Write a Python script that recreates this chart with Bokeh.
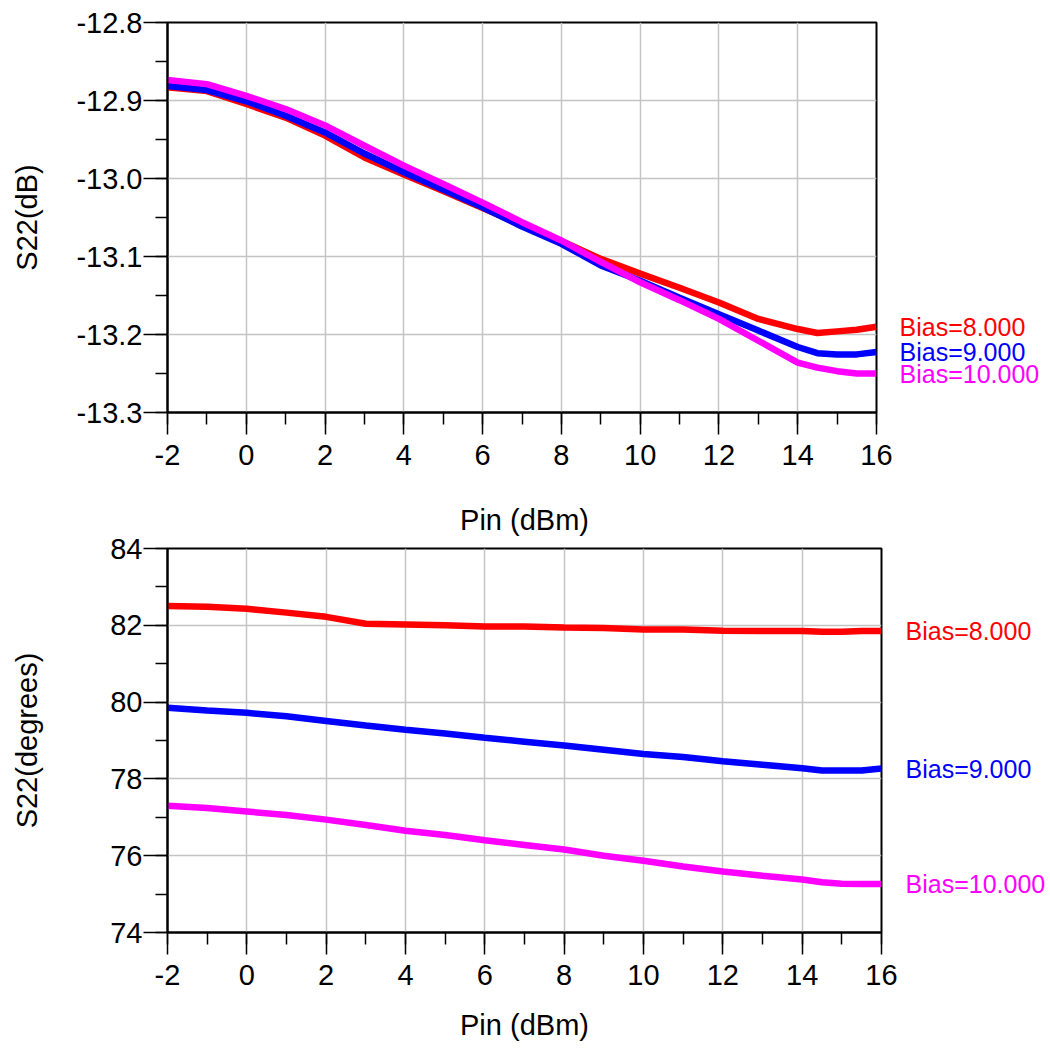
from bokeh.plotting import figure
from bokeh.layouts import column, row
from bokeh.models import Range1d, SingleIntervalTicker, PrintfTickFormatter
from bokeh.core.properties import value
from bokeh.embed import file_html
from bokeh.resources import INLINE

FONT = "Liberation Sans"

# ---- data ----
pin = [-2, -1, 0, 1, 2, 3, 4, 5, 6, 7, 8, 9, 10, 11, 12, 13, 14, 14.5, 15, 15.5, 16]

s22_db_bias8 = [-12.883, -12.888, -12.9045, -12.922, -12.945, -12.973, -12.995, -13.016, -13.038,
                -13.060, -13.080, -13.103, -13.122, -13.140, -13.159, -13.180, -13.193, -13.198,
                -13.196, -13.194, -13.190]
s22_db_bias9 = [-12.8815, -12.8866, -12.901, -12.9195, -12.941, -12.968, -12.992, -13.014, -13.037,
                -13.0616, -13.0837, -13.1115, -13.131, -13.153, -13.174, -13.195, -13.216, -13.224,
                -13.2255, -13.2255, -13.2225]
s22_db_bias10 = [-12.8738, -12.879, -12.894, -12.911, -12.932, -12.958, -12.9835, -13.007, -13.031,
                 -13.056, -13.0795, -13.107, -13.133, -13.156, -13.180, -13.208, -13.236, -13.2425,
                 -13.247, -13.250, -13.250]

s22_deg_bias8 = [82.50, 82.48, 82.43, 82.33, 82.22, 82.04, 82.02, 82.00, 81.97, 81.97, 81.94, 81.93,
                 81.89, 81.89, 81.86, 81.85, 81.85, 81.83, 81.83, 81.85, 81.85]
s22_deg_bias9 = [79.85, 79.78, 79.72, 79.63, 79.51, 79.39, 79.28, 79.18, 79.07, 78.97, 78.87, 78.76,
                 78.65, 78.57, 78.46, 78.37, 78.28, 78.22, 78.22, 78.22, 78.27]
s22_deg_bias10 = [77.30, 77.24, 77.15, 77.06, 76.94, 76.80, 76.65, 76.54, 76.40, 76.28, 76.16, 76.00,
                  75.87, 75.72, 75.59, 75.48, 75.38, 75.31, 75.27, 75.26, 75.26]

series_names = ["Bias=8.000", "Bias=9.000", "Bias=10.000"]
series_colors = ["#FF0000", "#0000FF", "#FF00FF"]
x_label = "Pin (dBm)"


def style(p, y_interval, y_fmt, y_label, y_label_standoff):
    xt = SingleIntervalTicker(interval=2, num_minor_ticks=2)
    yt = SingleIntervalTicker(interval=y_interval, num_minor_ticks=2)
    p.xaxis.ticker = xt
    p.yaxis.ticker = yt
    p.xgrid.ticker = xt
    p.ygrid.ticker = yt
    p.xaxis.formatter = PrintfTickFormatter(format="%d")
    p.yaxis.formatter = PrintfTickFormatter(format=y_fmt)
    for g in (p.xgrid, p.ygrid):
        g.grid_line_color = "#c4c4c4"
        g.grid_line_width = 1.5
    for ax in (p.xaxis, p.yaxis):
        ax.axis_line_color = "black"
        ax.axis_line_width = 2
        ax.major_tick_line_color = "black"
        ax.minor_tick_line_color = "black"
        ax.major_tick_line_width = 1.5
        ax.minor_tick_line_width = 1.5
        ax.major_tick_in = 0
        ax.minor_tick_in = 0
        ax.minor_tick_out = 12
        ax.major_label_text_font = FONT
        ax.major_label_text_font_size = "29px"
        ax.major_label_text_color = "black"
        ax.axis_label_text_font = FONT
        ax.axis_label_text_font_size = "29px"
        ax.axis_label_text_font_style = "normal"
        ax.axis_label_text_color = "black"
    p.xaxis.major_tick_out = 22
    p.yaxis.major_tick_out = 24
    p.xaxis.major_label_standoff = 10
    p.yaxis.major_label_standoff = 1
    p.yaxis.axis_label = y_label
    p.yaxis.axis_label_standoff = y_label_standoff
    p.outline_line_color = "black"
    p.outline_line_width = 2
    p.outline_line_alpha = 1


def make_panel(ys_list, y_range, width, height, top, bottom, right, y_interval, y_fmt,
               y_label, y_label_standoff, label_width, label_off):
    p = figure(width=width, height=height, output_backend="svg", toolbar_location=None,
               x_range=Range1d(-2, 16), y_range=y_range,
               min_border_left=167, min_border_right=right, min_border_top=top,
               min_border_bottom=bottom)
    style(p, y_interval, y_fmt, y_label, y_label_standoff)
    for ys, col in zip(ys_list, series_colors):
        p.line(pin, ys, line_color=col, line_width=6.5)

    lab = figure(width=label_width, height=height, output_backend="svg", toolbar_location=None,
                 x_range=Range1d(0, 1), y_range=y_range, x_axis_type=None, y_axis_type=None,
                 min_border_left=0, min_border_right=0, min_border_top=top,
                 min_border_bottom=bottom)
    lab.outline_line_color = None
    lab.xgrid.visible = False
    lab.ygrid.visible = False
    lab.text(x=[0] * len(ys_list), y=[ys[-1] for ys in ys_list], text=series_names,
             text_color=series_colors, text_font=value(FONT), text_font_size="25px",
             text_baseline="middle", text_align="left", x_offset=label_off)
    return p, lab


p1, lab1 = make_panel([s22_db_bias8, s22_db_bias9, s22_db_bias10], Range1d(-13.3, -12.8),
                      width=896, height=487, top=22, bottom=75, right=20,
                      y_interval=0.1, y_fmt="%.1f", y_label="S22(dB)",
                      y_label_standoff=30, label_width=150, label_off=3)

p2, lab2 = make_panel([s22_deg_bias8, s22_deg_bias9, s22_deg_bias10], Range1d(74, 84),
                      width=901, height=570, top=61, bottom=125, right=20,
                      y_interval=2, y_fmt="%d", y_label="S22(degrees)",
                      y_label_standoff=64, label_width=145, label_off=4)

# x-axis title of the upper chart (drawn in the gap between the charts)
p2.title.text = x_label
p2.title.align = "center"
p2.title.text_font = FONT
p2.title.text_font_size = "29px"
p2.title.text_font_style = "normal"
p2.title.text_color = "black"
p2.title.standoff = 25

# x-axis title of the lower chart
p2.xaxis.axis_label = x_label
p2.xaxis.axis_label_standoff = 21

layout = column(row(p1, lab1, spacing=0), row(p2, lab2, spacing=0), spacing=0)
open("out.html", "w").write(file_html(layout, INLINE))
